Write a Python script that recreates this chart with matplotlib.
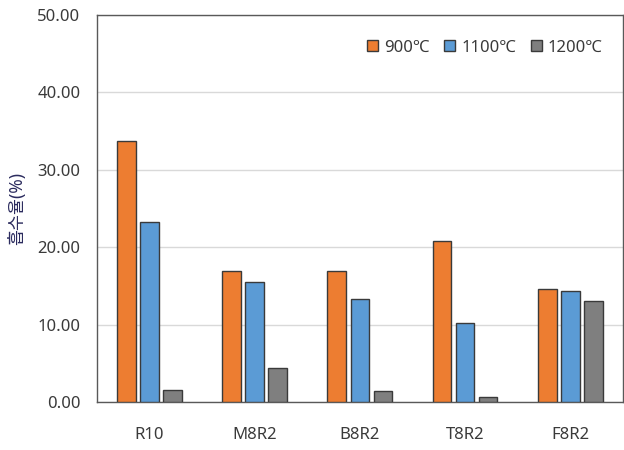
import matplotlib
matplotlib.use('Agg')
import matplotlib.pyplot as plt
import numpy as np

plt.rcParams['font.family'] = ['Noto Sans', 'Noto Sans CJK KR', 'DejaVu Sans']

categories = ['R10', 'M8R2', 'B8R2', 'T8R2', 'F8R2']
series_names = ['900℃', '1100℃', '1200℃']
values_900 = [33.7, 16.9, 16.9, 20.8, 14.6]
values_1100 = [23.3, 15.5, 13.3, 10.2, 14.3]
values_1200 = [1.5, 4.4, 1.4, 0.6, 13.1]
y_ticks = [0, 10, 20, 30, 40, 50]

colors = ['#ED7D31', '#5B9BD5', '#7F7F7F']
edge = '#3A3A3A'
text_color = '#3A3A3A'

fig = plt.figure(figsize=(6.24, 4.5), dpi=100)
ax = fig.add_axes([0.1554, 0.1067, 0.8426, 0.86])

x = np.arange(len(categories))
width = 0.178
step = 0.219
for i, (name, vals) in enumerate(zip(series_names, [values_900, values_1100, values_1200])):
    ax.bar(x + (i - 1) * step, vals, width, color=colors[i], edgecolor=edge,
           linewidth=1.0, label=name, zorder=3)

ax.set_xlim(-0.5, len(categories) - 0.5)
ax.set_ylim(0, 50)
ax.set_yticks(y_ticks)
ax.set_yticklabels([f'{v:.2f}' for v in y_ticks])
ax.set_xticks(x)
ax.set_xticklabels(categories)
ax.tick_params(axis='both', length=0, labelsize=12, colors=text_color)
ax.tick_params(axis='y', pad=12)
ax.tick_params(axis='x', pad=18)
ax.grid(axis='y', color='#D9D9D9', linewidth=1.0, zorder=0)
for s in ax.spines.values():
    s.set_color('#595959')
    s.set_linewidth(1.0)

ax.set_ylabel('흡수율(%)', fontsize=12.5, color='#2B2B5E')
ax.yaxis.set_label_coords(-0.135, 0.5)

leg = ax.legend(loc='upper right', ncol=3, frameon=False, fontsize=12,
                handlelength=0.65, handleheight=0.65, handletextpad=0.35,
                columnspacing=0.9, bbox_to_anchor=(0.99, 0.975))
for t in leg.get_texts():
    t.set_color(text_color)

fig.savefig('out.png', dpi=100)
